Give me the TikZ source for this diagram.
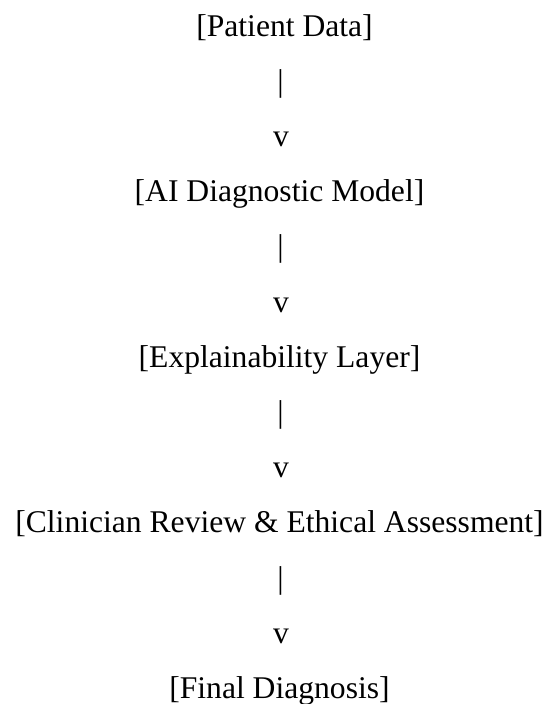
\documentclass[tikz,border=0pt]{standalone}
\usepackage{fontspec}
\setmainfont{Liberation Serif}
\begin{document}
\begin{tikzpicture}[x=1pt,y=-1pt,
  txt/.style={anchor=base,inner sep=0pt,font=\fontsize{31.6}{36}\selectfont}]
\useasboundingbox[fill=white] (0,0) rectangle (547,704);
\def\cx{279.5}
\node[txt] (patient) at (284.5,36) {[Patient Data]};
\node[txt] (bar1) at (280.5,91.2) {|};
\node[txt] (v1) at (281,146.4) {v};
\node[txt] (ai) at (\cx,201.6) {[AI Diagnostic Model]};
\node[txt] (bar2) at (280.5,256.8) {|};
\node[txt] (v2) at (281,312) {v};
\node[txt] (expl) at (\cx,367.2) {[Explainability Layer]};
\node[txt] (bar3) at (280.5,422.4) {|};
\node[txt] (v3) at (281,477.6) {v};
\node[txt] (clin) at (\cx,532.8) {[Clinician Review \& Ethical Assessment]};
\node[txt] (bar4) at (280.5,588) {|};
\node[txt] (v4) at (281,643.2) {v};
\node[txt] (final) at (\cx,698.4) {[Final Diagnosis]};
\end{tikzpicture}
\end{document}
